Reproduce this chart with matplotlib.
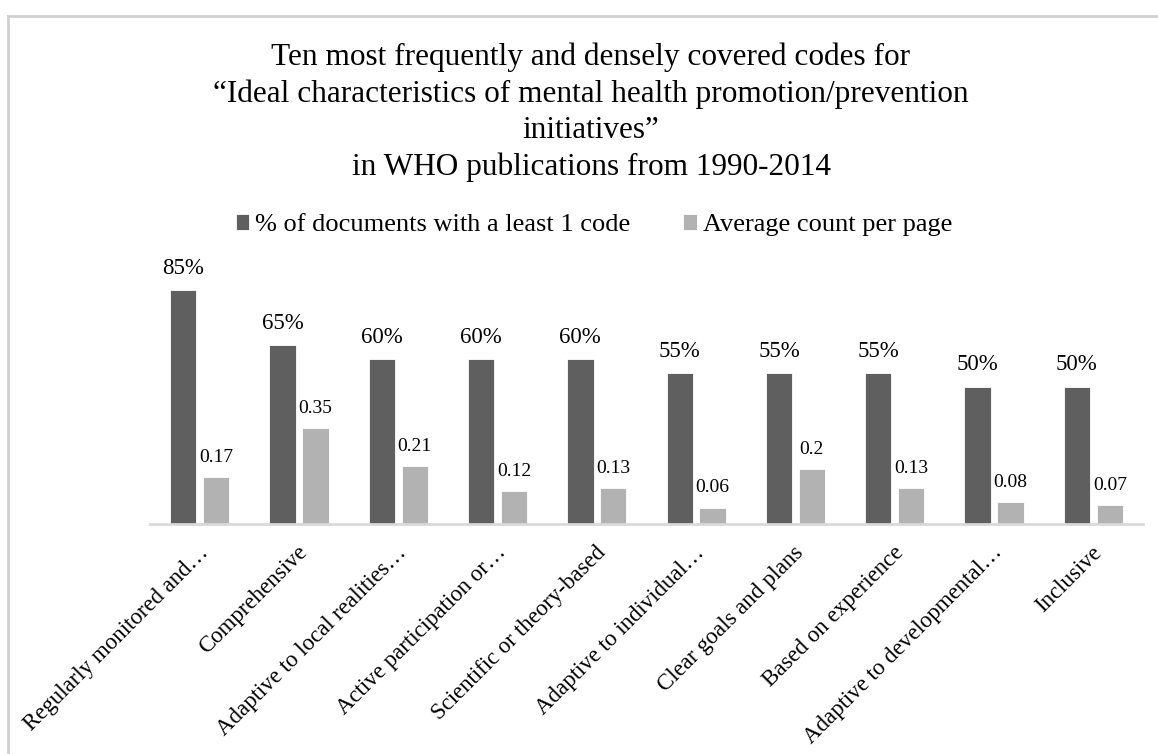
import matplotlib.pyplot as plt
import matplotlib.lines as mlines
import matplotlib.transforms as mtransforms
import numpy as np

plt.rcParams['font.family'] = ['Liberation Serif', 'DejaVu Serif']

codes = ['Regularly monitored and…', 'Comprehensive', 'Adaptive to local realities…',
         'Active participation or…', 'Scientific or theory-based', 'Adaptive to individual…',
         'Clear goals and plans', 'Based on experience', 'Adaptive to developmental…',
         'Inclusive']
pct_docs = [0.85, 0.65, 0.60, 0.60, 0.60, 0.55, 0.55, 0.55, 0.50, 0.50]
avg_count = [0.17, 0.35, 0.21, 0.12, 0.13, 0.06, 0.2, 0.13, 0.08, 0.07]

title = ('Ten most frequently and densely covered codes for\n'
         '\u201cIdeal characteristics of mental health promotion/prevention\n'
         'initiatives\u201d\n'
         'in WHO publications from 1990-2014')

dark = '#5f5f5f'
light = '#b2b2b2'

W, H = 1158, 754
fig = plt.figure(figsize=(W / 100, H / 100), dpi=100)
ax = fig.add_axes([150 / W, (H - 524) / H, 993 / W, 275 / H])

x = np.arange(len(codes))
bw = 0.265
off = 0.166
b1 = ax.bar(x - off, pct_docs, bw, color=dark, edgecolor='white', linewidth=0.6,
            label='% of documents with a least 1 code')
b2 = ax.bar(x + off, avg_count, bw, color=light, edgecolor='white', linewidth=0.6,
            label='Average count per page')

for xi, v in zip(x, pct_docs):
    ax.annotate(f'{round(v * 100)}%', (xi - off, v), xytext=(0, 8), textcoords='offset points',
                ha='center', va='bottom', fontsize=16.5, annotation_clip=False)
for xi, v in zip(x, avg_count):
    ax.annotate(f'{v:g}', (xi + off, v), xytext=(0, 8), textcoords='offset points',
                ha='center', va='bottom', fontsize=14, annotation_clip=False)

ax.set_xlim(-0.5, len(codes) - 0.5)
ax.set_ylim(0, 1.0)
ax.set_yticks([])
for s in ['top', 'right', 'left']:
    ax.spines[s].set_visible(False)
ax.spines['bottom'].set_color('#d9d9d9')
ax.spines['bottom'].set_linewidth(2)

ax.set_xticks(x)
ax.set_xticklabels(codes, rotation=45, ha='right', va='top', rotation_mode='anchor', fontsize=16.5)
ax.tick_params(axis='x', length=0, pad=13)
shift = mtransforms.ScaledTranslation(-2 / 100, 0, fig.dpi_scale_trans)
for lab in ax.get_xticklabels():
    lab.set_transform(lab.get_transform() + shift)

fig.text(591 / W, 1 - 43 / H, title, ha='center', va='top', fontsize=22.5, linespacing=1.32)

fig.legend(handles=[b1, b2], loc='center', bbox_to_anchor=(594 / W, 1 - 225 / H), ncol=2,
           frameon=False, fontsize=19, handlelength=0.5, handleheight=0.55,
           handletextpad=0.25, columnspacing=2.0)

# chart area border: only the top and left edges are inside the image
fig.add_artist(mlines.Line2D([8 / W, 1.0], [1 - 16 / H, 1 - 16 / H], transform=fig.transFigure,
                             color='#d0d0d0', linewidth=2))
fig.add_artist(mlines.Line2D([8 / W, 8 / W], [0.0, 1 - 16 / H], transform=fig.transFigure,
                             color='#d0d0d0', linewidth=2))

fig.savefig('out.png', dpi=100)
